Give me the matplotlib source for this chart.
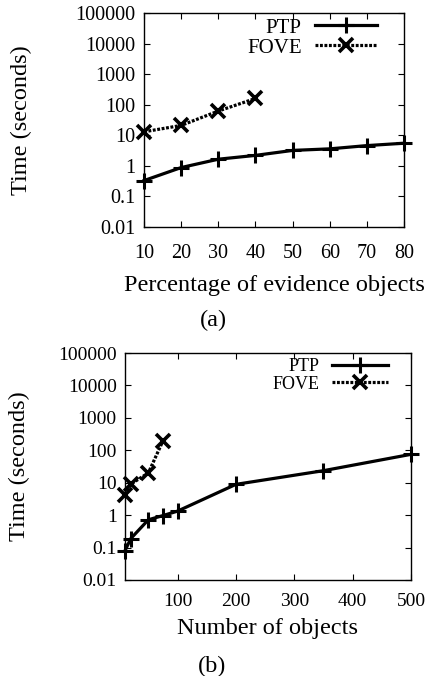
import matplotlib
matplotlib.use('Agg')
import matplotlib.pyplot as plt

plt.rcParams['font.family'] = ['Liberation Serif', 'DejaVu Serif']

# (a) time vs percentage of evidence objects
pct = [10, 20, 30, 40, 50, 60, 70, 80]
ptp_a = [0.33, 0.88, 1.65, 2.2, 3.2, 3.6, 4.6, 5.5]
pct_fove = [10, 20, 30, 40]
fove_a = [13, 21, 62, 160]

# (b) time vs number of objects
nobj = [10, 20, 50, 75, 100, 200, 350, 500]
ptp_b = [0.08, 0.19, 0.72, 0.97, 1.33, 8.9, 23.5, 75]
nobj_fove = [10, 20, 50, 75]
fove_b = [4.2, 9.1, 20, 195]

yticks = [0.01, 0.1, 1, 10, 100, 1000, 10000, 100000]
ylabels = ['0.01', '0.1', '1', '10', '100', '1000', '10000', '100000']

fig = plt.figure(figsize=(4.27, 6.76), dpi=100)
ax1 = fig.add_axes([144/427, 1-227/676, 260/427, 214/676])
ax2 = fig.add_axes([125/427, 1-580/676, 286/427, 227/676])

ptp_style = dict(color='black', lw=2.3, marker='+', ms=11, mew=2.2, clip_on=False)
fove_style = dict(color='black', lw=2.3, ls=(0, (0.9, 0.5)), marker='x', ms=10,
                  mew=2.6, clip_on=False)


def setup(ax, xlabel, tick_fs, xpad, xlabelpad, ylab_x, leg_fs, leg_anchor, hl, htp):
    ax.set_yscale('log')
    ax.set_ylim(0.01, 100000)
    ax.set_yticks(yticks)
    ax.set_yticklabels(ylabels)
    ax.yaxis.set_minor_locator(matplotlib.ticker.NullLocator())
    ax.tick_params(direction='in', top=True, right=True, length=4, width=0.8,
                   labelsize=tick_fs)
    ax.tick_params(axis='x', pad=xpad)
    ax.tick_params(axis='y', pad=6)
    for s in ax.spines.values():
        s.set_linewidth(1.0)
    ax.set_xlabel(xlabel, fontsize=17.5, labelpad=xlabelpad)
    ax.set_ylabel('Time (seconds)', fontsize=17.5)
    ax.yaxis.set_label_coords(ylab_x, 0.5)
    ax.legend(loc='upper right', bbox_to_anchor=leg_anchor, frameon=False,
              markerfirst=False, fontsize=leg_fs, handlelength=hl,
              handletextpad=htp, labelspacing=0.03, borderpad=0,
              borderaxespad=0)


ax1.plot(pct, ptp_a, label='PTP', **ptp_style)
ax1.plot(pct_fove, fove_a, label='FOVE', **fove_style)
ax1.set_xlim(10, 80)
ax1.set_xticks(pct)
setup(ax1, 'Percentage of evidence objects', 14.5, 12, 9, (32-144)/260,
      15, ((377-144)/260, (227-18)/214), 3.0, 0.62)

ax2.plot(nobj, ptp_b, label='PTP', **ptp_style)
ax2.plot(nobj_fove, fove_b, label='FOVE', **fove_style)
ax2.set_xlim(10, 500)
ax2.set_xticks([100, 200, 300, 400, 500])
setup(ax2, 'Number of objects', 14, 9, 6, (30-125)/286,
      13, ((388-125)/286, (580-358)/227), 3.1, 0.67)

fig.text(213/427, 1-320/676, '(a)', fontsize=17.5, ha='center', va='center')
fig.text(212/427, 1-666/676, '(b)', fontsize=17.5, ha='center', va='center')

fig.savefig('out.png', dpi=100)
